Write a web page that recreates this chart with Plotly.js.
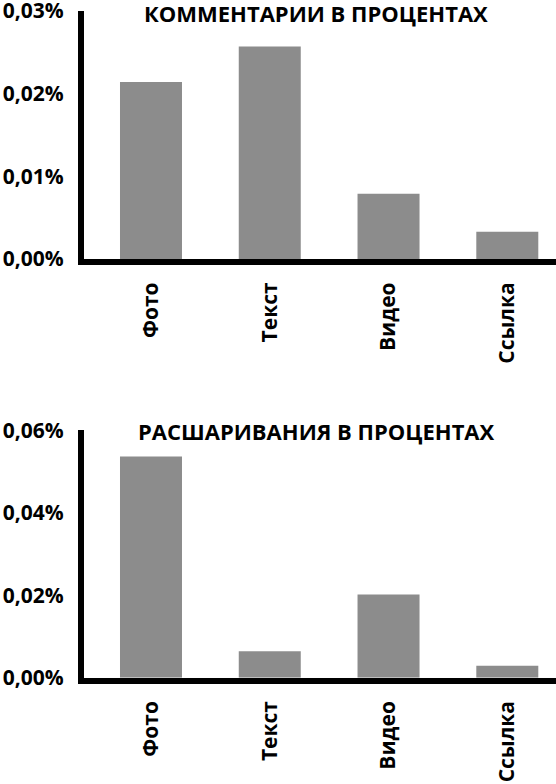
<!DOCTYPE html>
<html>
<head>
<meta charset="utf-8">
<script src="https://cdn.plot.ly/plotly-3.0.1.min.js"></script>
<style>
  html, body { margin: 0; padding: 0; background: #fff; }
  #chart { width: 556px; height: 784px; }
</style>
</head>
<body>
<div id="chart"></div>
<script>
// данные, в процентах
const categories = ['Фото', 'Текст', 'Видео', 'Ссылка'];
const comments = [0.0214, 0.0257, 0.0079, 0.0033];
const shares = [0.0537, 0.0064, 0.0202, 0.0029];
const commentTicks = [0, 0.01, 0.02, 0.03];
const shareTicks = [0, 0.02, 0.04, 0.06];
const titles = ['КОММЕНТАРИИ В ПРОЦЕНТАХ', 'РАСШАРИВАНИЯ В ПРОЦЕНТАХ'];

const FONT = 'Open Sans, sans-serif';
const barColor = '#8c8c8c';
const W = 556, H = 784, L = 84;

const fmt = v => v.toFixed(2).replace('.', ',') + '%';

const xAxis = (anchor) => ({
  anchor: anchor,
  range: [-0.564, 3.41],
  showline: true, linecolor: '#000', linewidth: 6,
  showgrid: false, zeroline: false, ticks: '',
  tickangle: -90,
  ticklabelstandoff: 9,
  tickfont: {family: FONT, size: 21, color: '#000', weight: 'bold'},
  fixedrange: true
});

const yAxis = (anchor, domain, ticks) => ({
  anchor: anchor,
  domain: domain,
  range: [0, ticks[ticks.length - 1]],
  tickmode: 'array',
  tickvals: ticks,
  ticktext: ticks.map(fmt),
  ticklabeloverflow: 'allow',
  showline: true, linecolor: '#000', linewidth: 6,
  showgrid: false, zeroline: false, ticks: '',
  ticklabelstandoff: 10,
  tickfont: {family: FONT, size: 21, color: '#000', weight: 'bold'},
  fixedrange: true
});

const title = (text, yPx) => ({
  text: text, xref: 'paper', yref: 'paper',
  x: (316 - L) / (W - L), y: 1 - yPx / H,
  showarrow: false, xanchor: 'center', yanchor: 'middle',
  font: {family: FONT, size: 22, color: '#000', weight: 'bold'}
});

Plotly.newPlot('chart', [
  {x: categories, y: comments, type: 'bar', xaxis: 'x', yaxis: 'y',
   marker: {color: barColor}, hoverinfo: 'none'},
  {x: categories, y: shares, type: 'bar', xaxis: 'x2', yaxis: 'y2',
   marker: {color: barColor}, hoverinfo: 'none'}
], {
  width: W, height: H,
  margin: {l: L, r: 0, t: 0, b: 0},
  paper_bgcolor: '#fff', plot_bgcolor: '#fff',
  showlegend: false,
  bargap: 0.478,
  xaxis: xAxis('y'),
  yaxis: yAxis('x', [0.6696, 0.986], commentTicks),
  xaxis2: xAxis('y2'),
  yaxis2: yAxis('x2', [0.1356, 0.4509], shareTicks),
  annotations: [title(titles[0], 13), title(titles[1], 431)]
}, {displayModeBar: false, staticPlot: true});
</script>
</body>
</html>
